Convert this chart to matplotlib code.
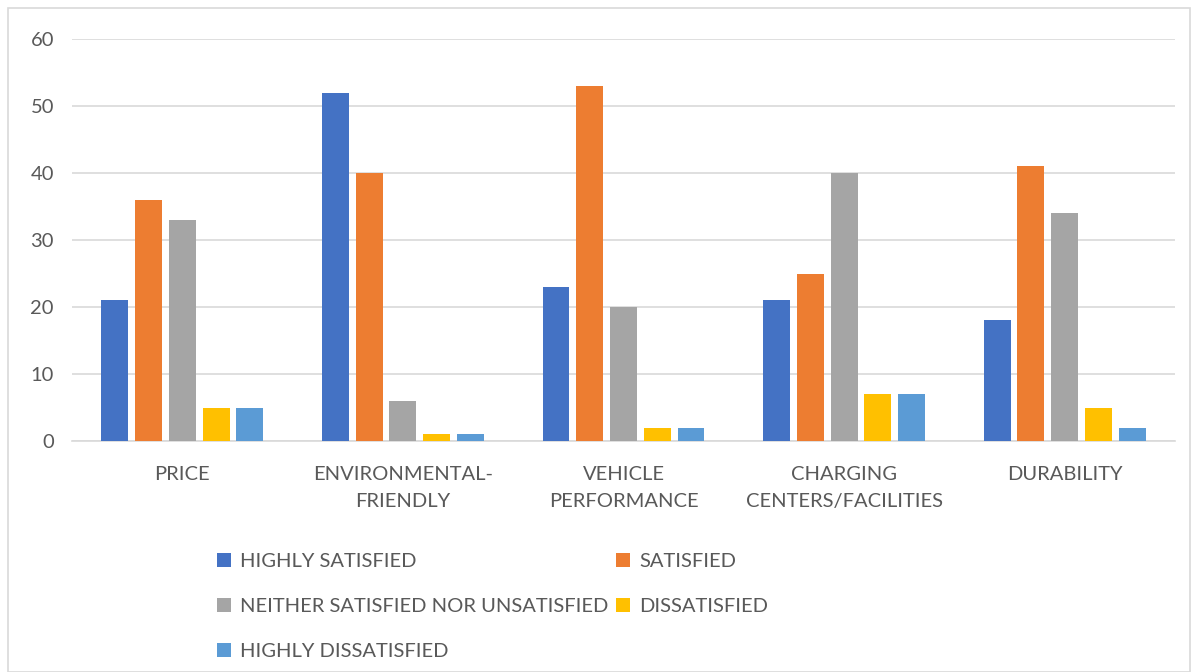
import matplotlib.pyplot as plt
import numpy as np
from matplotlib.patches import Rectangle

categories = ["PRICE", "ENVIRONMENTAL-\nFRIENDLY", "VEHICLE\nPERFORMANCE",
              "CHARGING\nCENTERS/FACILITIES", "DURABILITY"]
series = ["HIGHLY SATISFIED", "SATISFIED", "NEITHER SATISFIED NOR UNSATISFIED",
          "DISSATISFIED", "HIGHLY DISSATISFIED"]
highly_satisfied = [21, 52, 23, 21, 18]
satisfied = [36, 40, 53, 25, 41]
neither = [33, 6, 20, 40, 34]
dissatisfied = [5, 1, 2, 7, 5]
highly_dissatisfied = [5, 1, 2, 7, 2]
colors = ["#4472C4", "#ED7D31", "#A5A5A5", "#FFC000", "#5B9BD5"]

plt.rcParams['font.family'] = ['Lato', 'DejaVu Sans']
text_color = "#595959"
fsize = 14.5

fig = plt.figure(figsize=(11.97, 6.72), dpi=100)
fig.patches.append(Rectangle((8 / 1197, 0), 1182 / 1197, 1 - 8 / 672,
                             transform=fig.transFigure, fill=False,
                             edgecolor="#d9d9d9", linewidth=1.2))

ax = fig.add_axes([72 / 1197, 1 - 441 / 672, 1103 / 1197, 402 / 672])
x = np.arange(len(categories))
step = 0.153
width = 0.122
values = [highly_satisfied, satisfied, neither, dissatisfied, highly_dissatisfied]
bars = []
for i, (name, vals, c) in enumerate(zip(series, values, colors)):
    bars.append(ax.bar(x + (i - 2) * step, vals, width, color=c, label=name, zorder=3))

ax.set_xlim(-0.5, len(categories) - 0.5)
ax.set_ylim(0, 60)
ax.set_yticks(range(0, 61, 10))
ax.set_xticks(x)
ax.set_xticklabels(categories, linespacing=1.7)
ax.tick_params(axis='both', length=0, colors=text_color, labelsize=fsize)
ax.tick_params(axis='x', pad=18)
ax.tick_params(axis='y', pad=13)
ax.grid(axis='y', color="#d9d9d9", linewidth=1.2, zorder=0)
for s in ['top', 'right', 'left']:
    ax.spines[s].set_visible(False)
ax.spines['bottom'].set_color("#d9d9d9")
ax.spines['bottom'].set_linewidth(1.2)

# legend fills row by row: two entries per row
order = [0, 2, 4, 1, 3]
leg = fig.legend([bars[i] for i in order], [series[i] for i in order],
                 loc='upper left', bbox_to_anchor=(199 / 1197, 1 - 535 / 672),
                 ncol=2, frameon=False, fontsize=fsize, handlelength=0.7,
                 handleheight=0.7, handletextpad=0.45, labelspacing=1.38,
                 columnspacing=0.35)
for t in leg.get_texts():
    t.set_color(text_color)

fig.savefig("out.png", dpi=100)
